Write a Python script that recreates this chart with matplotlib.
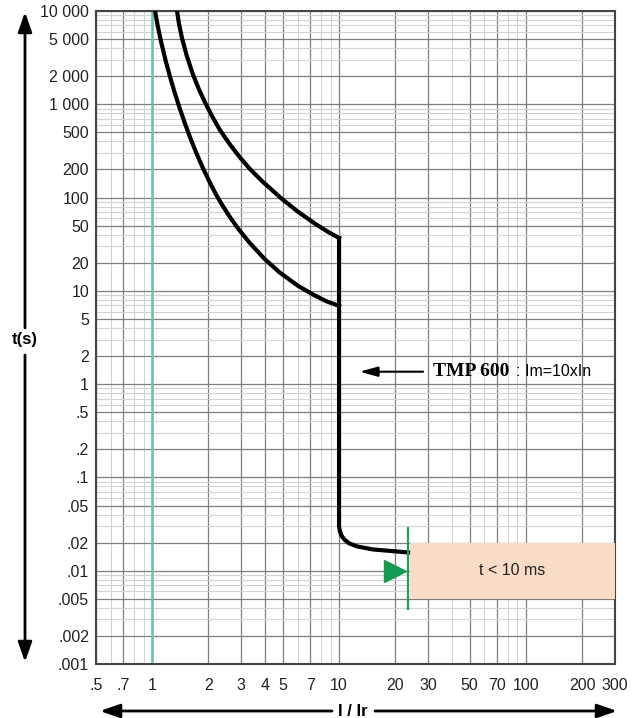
import numpy as np
import matplotlib.pyplot as plt

# Tripping curve: I/Ir against t (s)
low_x = [1.035, 1.07, 1.114, 1.18, 1.26, 1.33, 1.41, 1.5, 1.6, 1.72, 1.87, 2.02,
         2.2, 2.4, 2.6, 2.9, 3.3, 4.0, 4.8, 6.0, 7.2, 8.5, 10.0]
low_t = [10000, 6920, 4720, 2925, 1811, 1261, 879, 614, 434, 302, 206, 149,
         107, 79.8, 62.2, 45.8, 33.2, 21.9, 15.8, 11.4, 9.2, 7.78, 6.9]
up_x = [1.357, 1.39, 1.443, 1.53, 1.65, 1.78, 1.916, 2.1, 2.306, 2.6, 2.95, 3.337,
        3.9, 4.95, 6.0, 7.5, 8.8, 10.0]
up_t = [10000, 7330, 5130, 3310, 2100, 1440, 1047, 733, 528, 373, 269, 202,
        148, 96.6, 71, 51.9, 42.5, 36.9]
inst_x = [10.0, 10.0, 10.0, 10.1, 10.3, 10.7, 11.3, 12.5, 15.2, 23.4]
inst_t = [36.9, 6.9, 0.03, 0.0265, 0.0238, 0.0215, 0.0197, 0.0182, 0.0169, 0.0157]

# selectivity marks
sel_x = 23.5
sel_t = [0.0039, 0.029]
marker_x = [20]
marker_t = [0.01]
zone_x = [24, 300]
zone_t = [0.005, 0.02]
zone_label = "t < 10 ms"

# annotation
arrow_t = 1.36
arrow_x = [12.9, 28.2]
note_bold = "TMP 600"
note_rest = ": Im=10xIn"

x_ticks = [0.5, 0.7, 1, 2, 3, 4, 5, 7, 10, 20, 30, 50, 70, 100, 200, 300]
x_labels = [".5", ".7", "1", "2", "3", "4", "5", "7", "10", "20", "30", "50", "70", "100", "200", "300"]
y_ticks = [10000, 5000, 2000, 1000, 500, 200, 100, 50, 20, 10, 5, 2, 1,
           0.5, 0.2, 0.1, 0.05, 0.02, 0.01, 0.005, 0.002, 0.001]
y_labels = ["10 000", "5 000", "2 000", "1 000", "500", "200", "100", "50", "20", "10", "5", "2", "1",
            ".5", ".2", ".1", ".05", ".02", ".01", ".005", ".002", ".001"]

plt.rcParams['font.family'] = ['Liberation Sans', 'DejaVu Sans']

W, H = 644, 718
fig = plt.figure(figsize=(W / 100, H / 100), dpi=100)
ax = fig.add_axes([96 / W, 1 - 664 / H, (615 - 96) / W, (664 - 11) / H])
ax.set_xscale('log')
ax.set_yscale('log')
ax.set_xlim(0.5, 300)
ax.set_ylim(0.001, 10000)

# grid: labelled values darker, other 1..9 multiples light
minor_x = [k * 10.0 ** e for e in range(-1, 3) for k in range(1, 10)]
minor_y = [k * 10.0 ** e for e in range(-3, 5) for k in range(1, 10)]
ax.set_xticks(x_ticks)
ax.set_xticklabels(x_labels)
ax.set_xticks([v for v in minor_x if 0.5 < v < 300], minor=True)
ax.set_yticks(y_ticks)
ax.set_yticklabels(y_labels)
ax.set_yticks([v for v in minor_y if 0.001 < v < 10000], minor=True)
ax.grid(which='major', color='#7f7f7f', lw=0.9)
ax.grid(which='minor', color='#d2d2d2', lw=0.8)
ax.set_axisbelow(True)
ax.tick_params(which='both', length=0)
ax.tick_params(axis='x', pad=10, labelsize=11.5, colors='#222')
ax.tick_params(axis='y', pad=5, labelsize=11.5, colors='#222')
for s in ax.spines.values():
    s.set_color('#444')
    s.set_linewidth(1.5)

ax.axvline(1, color='#66c4a4', lw=1.8, zorder=2)

ax.plot(low_x, low_t, color='black', lw=3, solid_joinstyle='round', zorder=4)
ax.plot(up_x, up_t, color='black', lw=3, solid_joinstyle='round', zorder=4)
ax.plot(inst_x, inst_t, color='black', lw=3, solid_joinstyle='round', zorder=4)

# instantaneous zone
ax.fill_between(zone_x, zone_t[0], zone_t[1], color='#f9dcc6', lw=0, zorder=3)
ax.text(np.sqrt(zone_x[0] * zone_x[1]), np.sqrt(zone_t[0] * zone_t[1]), zone_label,
        ha='center', va='center', fontsize=11.5, color='#222', zorder=5)
ax.plot([sel_x, sel_x], sel_t, color='#1f9e5e', lw=1.6, zorder=5)
ax.plot(marker_x, marker_t, marker='>', ms=16, color='#169b52', ls='none', zorder=5)

# TMP 600 annotation
ax.annotate('', xy=(arrow_x[0], arrow_t), xytext=(arrow_x[1], arrow_t),
            arrowprops=dict(arrowstyle='-|>,head_length=0.9,head_width=0.25',
                            color='black', lw=1.5, mutation_scale=12,
                            shrinkA=0, shrinkB=0), zorder=5)
ax.text(31.8, arrow_t, note_bold, ha='left', va='center', fontsize=14,
        fontweight='bold', family='Liberation Serif', zorder=5)
ax.text(89, arrow_t, note_rest, ha='left', va='center', fontsize=11.5, zorder=5)

# outer axis arrows
def farrow(p0, p1):
    ax.annotate('', xy=(p1[0] / W, 1 - p1[1] / H), xytext=(p0[0] / W, 1 - p0[1] / H),
                xycoords='figure fraction', textcoords='figure fraction',
                arrowprops=dict(arrowstyle='-|>,head_length=1.0,head_width=0.35',
                                color='black', lw=2, mutation_scale=12,
                                shrinkA=0, shrinkB=0),
                annotation_clip=False)

farrow((25, 328), (25, 12))
farrow((25, 355), (25, 662))
fig.text(25 / W, 1 - 340 / H, 't(s)', ha='center', va='center', fontsize=12, fontweight='bold')
farrow((332, 711), (100, 711))
farrow((375, 711), (617, 711))
fig.text(353 / W, 1 - 711 / H, 'I / Ir', ha='center', va='center', fontsize=12, fontweight='bold')

fig.savefig('out.png', dpi=100)
